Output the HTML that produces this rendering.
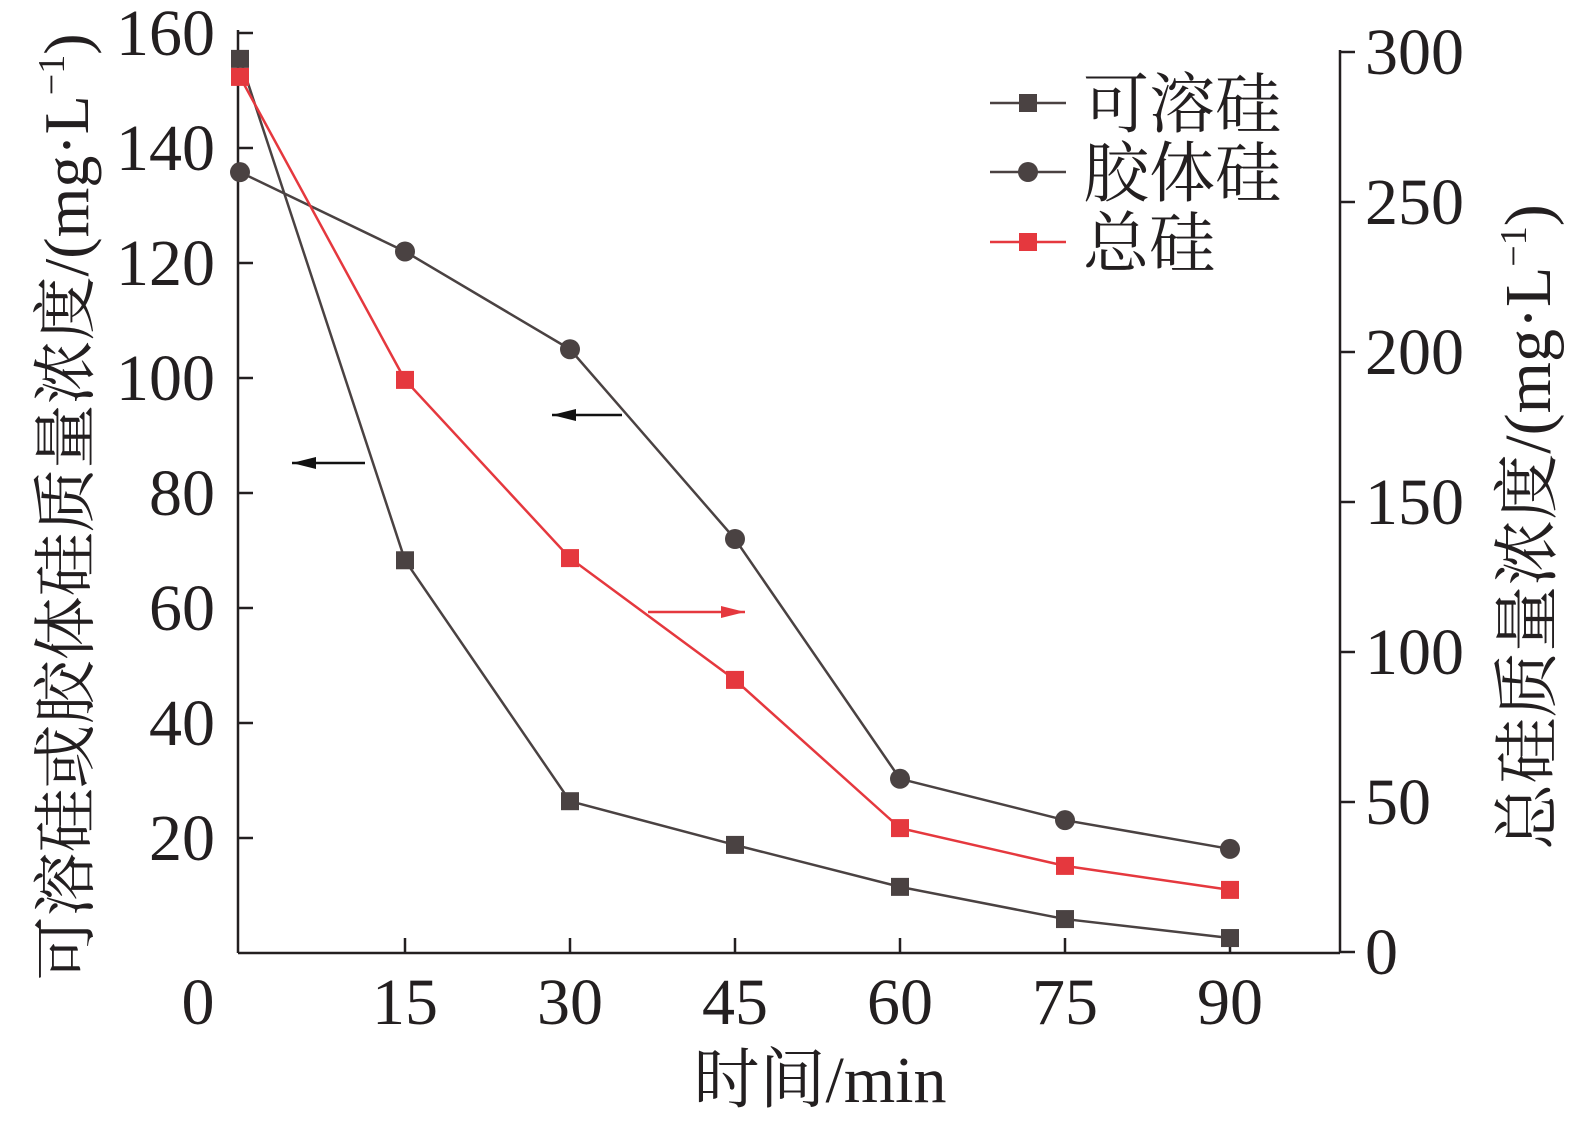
<!DOCTYPE html>
<html><head><meta charset="utf-8"><style>
body{margin:0;background:#fff}
svg text{font-family:"Liberation Serif","Noto Serif CJK SC","Noto Sans CJK SC",serif;fill:#231f20}
</style></head><body>
<svg id="chart" width="1574" height="1127" viewBox="0 0 1574 1127" xmlns="http://www.w3.org/2000/svg"></svg>
<script>
const times=[0,15,30,45,60,75,90];
const soluble=[155.5,68.3,26.4,18.8,11.5,5.9,2.6];
const colloid=[135.8,122,105,72,30.3,23.1,18.1];
const total=[291.7,190.7,131.3,90.7,41.3,28.7,20.7];
const xTicks=[15,30,45,60,75,90];
const leftTicks=[20,40,60,80,100,120,140,160];
const rightTicks=[0,50,100,150,200,250,300];
const seriesNames=["可溶硅","胶体硅","总硅"];

const NS="http://www.w3.org/2000/svg";
const svg=document.getElementById('chart');
const X=t=>240+t*11;
const YL=v=>953-v*5.75;
const YR=v=>952-v*3;
const DARK="#4a4242",RED="#e5383e";
const FS=66;
function mk(tag,attrs,parent){const e=document.createElementNS(NS,tag);for(const k in attrs)e.setAttribute(k,attrs[k]);(parent||svg).appendChild(e);return e;}

let e=mk('line',{x1:238,y1:953,x2:1340,y2:953,stroke:'#231f20','stroke-width':2.5});


e=mk('line',{x1:238,y1:953,x2:238,y2:30,stroke:'#231f20','stroke-width':2.5});


e=mk('line',{x1:1340,y1:953,x2:1340,y2:50,stroke:'#231f20','stroke-width':2.5});



e=mk('text',{x:198,y:1024,'font-size':FS,'text-anchor':'middle'});e.textContent='0';


xTicks.forEach(t=>{
  const l=mk('line',{x1:X(t),y1:953,x2:X(t),y2:938,stroke:'#231f20','stroke-width':2.5});
  
  
  const tx=mk('text',{x:X(t),y:1024,'font-size':FS,'text-anchor':'middle'});tx.textContent=t;
  
  
});
leftTicks.forEach(v=>{
  const l=mk('line',{x1:238,y1:YL(v),x2:253,y2:YL(v),stroke:'#231f20','stroke-width':2.5});
  
  
  const tx=mk('text',{x:215,y:YL(v)+22,'font-size':FS,'text-anchor':'end'});tx.textContent=v;
  
  
});
rightTicks.forEach(v=>{
  const l=mk('line',{x1:1340,y1:YR(v),x2:1355,y2:YR(v),stroke:'#231f20','stroke-width':2.5});
  
  
  const tx=mk('text',{x:1365,y:YR(v)+22,'font-size':FS,'text-anchor':'start'});tx.textContent=v;
  
  
});

e=mk('text',{x:820,y:1102,'font-size':FS,'text-anchor':'middle'});e.textContent='时间/min';


e=mk('text',{x:0,y:0,'font-size':64,'text-anchor':'middle',transform:'translate(88,507) rotate(-90)'});
e.innerHTML='可溶硅或胶体硅质量浓度/(mg·L<tspan dy="-24" font-size="38">−1</tspan><tspan dy="24">)</tspan>';


e=mk('text',{x:0,y:0,'font-size':66,'text-anchor':'middle',transform:'translate(1550,527) rotate(-90)'});
e.innerHTML='总硅质量浓度/(mg·L<tspan dy="-24" font-size="38">−1</tspan><tspan dy="24">)</tspan>';



function series(vals,Y,color,shape,name){
  const pts=vals.map((v,i)=>X(times[i])+','+Y(v)).join(' ');
  const pl=mk('polyline',{points:pts,fill:'none',stroke:color,'stroke-width':2.5});
  
  
  vals.forEach((v,i)=>{
    let m;
    if(shape==='sq') m=mk('rect',{x:X(times[i])-9,y:Y(v)-9,width:18,height:18,fill:color});
    else m=mk('circle',{cx:X(times[i]),cy:Y(v),r:10,fill:color});
    
    
  });
}
series(soluble,YL,DARK,'sq','soluble-silicon');
series(colloid,YL,DARK,'ci','colloidal-silicon');
series(total,YR,RED,'sq','total-silicon');

function arrow(x1,x2,y,color,name){
  const g=mk('g',{});
  
  
  mk('line',{x1:x1,y1:y,x2:x2,y2:y,stroke:color,'stroke-width':2.5},g);
  const d=x2>x1?-1:1;
  mk('polygon',{points:`${x2},${y} ${x2+d*24},${y-6} ${x2+d*24},${y+6}`,fill:color},g);
}
arrow(365,292,463,'#111','arrow-soluble-left');
arrow(622,552,415,'#111','arrow-colloid-left');
arrow(648,745,612,RED,'arrow-total-right');

const legColors=[DARK,DARK,RED],legShapes=['sq','ci','sq'],legY=[103,172,242];
seriesNames.forEach((n,i)=>{
  const g=mk('g',{});
  
  
  mk('line',{x1:990,y1:legY[i],x2:1066,y2:legY[i],stroke:legColors[i],'stroke-width':2.5},g);
  if(legShapes[i]==='sq') mk('rect',{x:1019,y:legY[i]-9,width:18,height:18,fill:legColors[i]},g);
  else mk('circle',{cx:1028,cy:legY[i],r:10,fill:legColors[i]},g);
  const t=mk('text',{x:1083,y:legY[i]+24,'font-size':FS},g);t.textContent=n;
});
</script>
</body></html>
